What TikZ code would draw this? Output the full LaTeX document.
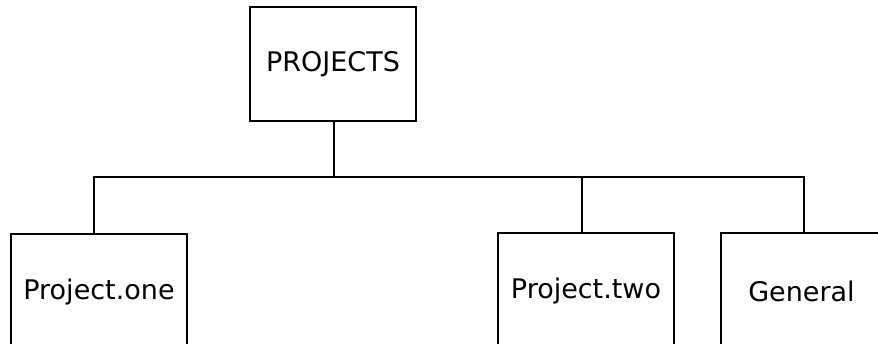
\documentclass[tikz,border=0pt]{standalone}
\usepackage{fontspec}
\setmainfont{DejaVu Sans}
\begin{document}
\begin{tikzpicture}[x=1pt,y=-1pt,
  line width=1.3pt,
  folder/.style={draw, rectangle, inner sep=0pt, font=\fontsize{27}{30}\selectfont}]
\useasboundingbox (0,0) rectangle (878,343);
\clip (0,0) rectangle (878,343);

% directory tree boxes
\node[folder, minimum width=166pt, minimum height=114pt] (root) at (333,64) {PROJECTS};
\node[folder, minimum width=176pt, minimum height=116pt] (one) at (99,292) {Project.one};
\node[folder, minimum width=176pt, minimum height=116pt] (two) at (586,291) {Project.two};
\node[folder, minimum width=161pt, minimum height=116pt] (gen) at (801.5,291) {General};

% branch points on the horizontal bus
\coordinate (bus) at (334,177);
\coordinate (j1) at (94,177);
\coordinate (j2) at (582,177);
\coordinate (j3) at (804,177);

\draw (bus |- root.south) -- (bus);
\draw (j1 |- one.north) -- (j1) -- (j3) -- (j3 |- gen.north);
\draw (j2) -- (j2 |- two.north);
\end{tikzpicture}
\end{document}
